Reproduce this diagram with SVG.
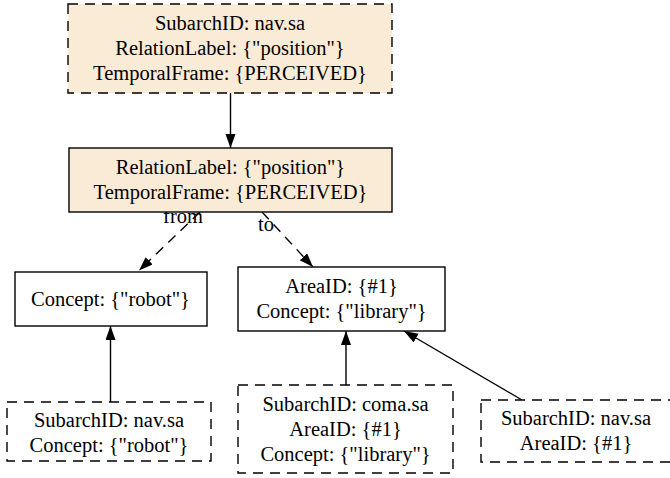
<svg xmlns="http://www.w3.org/2000/svg" width="670" height="478" viewBox="0 0 670 478">
  <style>
    text { font-family: "Liberation Serif", "Times New Roman", serif; font-size: 20.5px; fill: #000; text-anchor: middle; }
    .box { stroke: #000; stroke-width: 1.4; fill: #fff; }
    .tinted { fill: #faebd7; }
    .dashed { stroke-dasharray: 10,7; }
    .edge { stroke: #000; stroke-width: 1.4; fill: none; marker-end: url(#arrow); }
  </style>
  <defs>
    <marker id="arrow" markerUnits="userSpaceOnUse" markerWidth="15" markerHeight="11" refX="14" refY="5" orient="auto">
      <path d="M0,0 L14,5 L0,10 z" fill="#000"/>
    </marker>
  </defs>
  <rect width="670" height="478" fill="#fff"/>

  <g id="edges">
    <line class="edge" x1="230.5" y1="93" x2="230.5" y2="148"/>
    <line class="edge dashed" x1="200" y1="212" x2="139" y2="270.5"/>
    <line class="edge dashed" x1="262" y1="212" x2="313" y2="267"/>
    <line class="edge" x1="110.5" y1="402" x2="110.5" y2="326"/>
    <line class="edge" x1="346" y1="385" x2="346" y2="331"/>
    <line class="edge" x1="522" y1="400" x2="404" y2="331"/>
    <text x="183" y="222.5">from</text>
    <text x="266" y="231">to</text>
  </g>

  <g id="perceived-relation">
    <rect class="box tinted dashed" x="68" y="4" width="324" height="89"/>
    <text x="230" y="30">SubarchID: nav.sa</text>
    <text x="230" y="55">RelationLabel: {"position"}</text>
    <text x="230" y="80">TemporalFrame: {PERCEIVED}</text>
  </g>

  <g id="relation">
    <rect class="box tinted" x="69" y="148" width="323" height="64"/>
    <text x="230.5" y="173.5">RelationLabel: {"position"}</text>
    <text x="230.5" y="199">TemporalFrame: {PERCEIVED}</text>
  </g>

  <g id="robot">
    <rect class="box" x="15" y="272" width="192" height="54"/>
    <text x="110.5" y="306">Concept: {"robot"}</text>
  </g>

  <g id="library">
    <rect class="box" x="238" y="267" width="207" height="64"/>
    <text x="341.5" y="293">AreaID: {#1}</text>
    <text x="341.5" y="318">Concept: {"library"}</text>
  </g>

  <g id="nav-robot">
    <rect class="box dashed" x="7" y="402" width="204" height="59"/>
    <text x="109" y="427">SubarchID: nav.sa</text>
    <text x="109" y="452">Concept: {"robot"}</text>
  </g>

  <g id="coma-library">
    <rect class="box dashed" x="238" y="385" width="215" height="88"/>
    <text x="345.5" y="411">SubarchID: coma.sa</text>
    <text x="345.5" y="436">AreaID: {#1}</text>
    <text x="345.5" y="461">Concept: {"library"}</text>
  </g>

  <g id="nav-area">
    <rect class="box dashed" x="481" y="400" width="191" height="62"/>
    <text x="576" y="425">SubarchID: nav.sa</text>
    <text x="576" y="450">AreaID: {#1}</text>
  </g>
</svg>
